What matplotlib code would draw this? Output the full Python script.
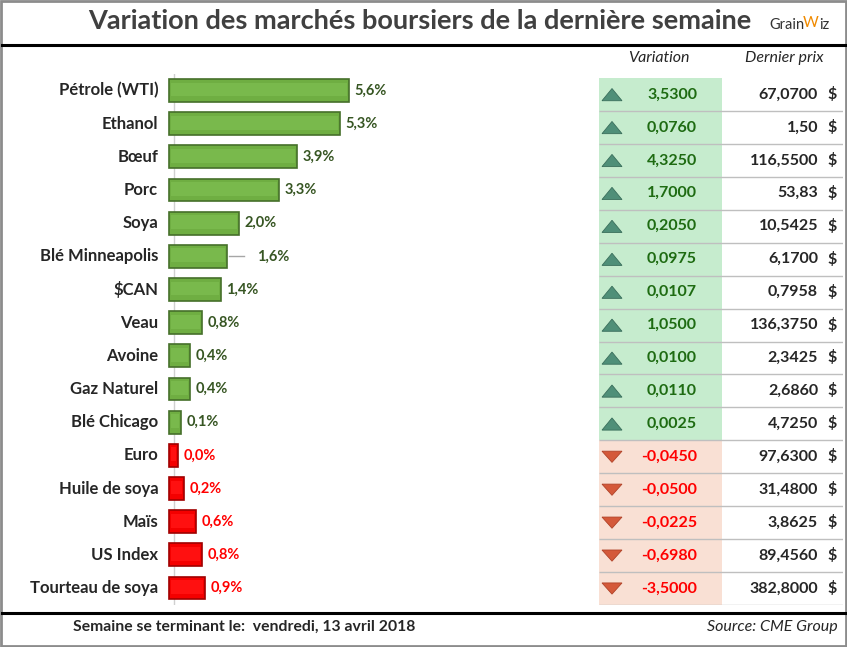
import matplotlib
matplotlib.use("Agg")
import matplotlib.pyplot as plt
from matplotlib.patches import Rectangle, Polygon

plt.rcParams['font.family'] = ['Lato', 'DejaVu Sans']
plt.rcParams['text.parse_math'] = False

# --- data ---
categories = ["Pétrole (WTI)", "Ethanol", "Bœuf", "Porc", "Soya", "Blé Minneapolis",
              "$CAN", "Veau", "Avoine", "Gaz Naturel", "Blé Chicago", "Euro",
              "Huile de soya", "Maïs", "US Index", "Tourteau de soya"]
pct_change = [5.6, 5.3, 3.9, 3.3, 2.0, 1.6, 1.4, 0.8, 0.4, 0.4, 0.1,
              -0.0, -0.2, -0.6, -0.8, -0.9]
variation = [3.5300, 0.0760, 4.3250, 1.7000, 0.2050, 0.0975, 0.0107, 1.0500,
             0.0100, 0.0110, 0.0025, -0.0450, -0.0500, -0.0225, -0.6980, -3.5000]
last_price = ["67,0700", "1,50", "116,5500", "53,83", "10,5425", "6,1700", "0,7958",
              "136,3750", "2,3425", "2,6860", "4,7250", "97,6300", "31,4800",
              "3,8625", "89,4560", "382,8000"]

title = "Variation des marchés boursiers de la dernière semaine"
footer_left = "Semaine se terminant le:  vendredi, 13 avril 2018"
footer_right = "Source: CME Group"

W, H = 847, 647
fig = plt.figure(figsize=(W / 100, H / 100), dpi=100)
fig.patch.set_facecolor("white")


def px_box(x0, y0, x1, y1):
    # pixel box (top-left origin) -> figure fraction rect
    return [x0 / W, 1 - y1 / H, (x1 - x0) / W, (y1 - y0) / H]


# overlay in pixel coordinates for frame / titles
ov = fig.add_axes([0, 0, 1, 1])
ov.set_xlim(0, W)
ov.set_ylim(H, 0)
ov.axis("off")

n = len(categories)
rows = list(range(n))
up = [variation[i] > 0 for i in rows]

# --- bar chart ---
bax = fig.add_axes(px_box(162.75, 73.9, 422, 604.6))
bax.set_xlim(-0.5, 8)
bax.set_ylim(n - 0.5, -0.5)
bax.axis("off")
bax.patch.set_alpha(0)

bax.axvline(-0.13, color="#d0d0d0", lw=1, zorder=1)
widths = [abs(v) + 0.3 for v in pct_change]
face = ["#6fae42" if u else "#f40000" for u in up]
edge = ["#456f2a" if u else "#a00000" for u in up]
bax.barh(rows, widths, left=-0.3, height=0.69, color=face, edgecolor=edge,
         linewidth=1.2, zorder=2)
# soft lighter face to hint at the bevel
bax.barh([r - 0.03 for r in rows], [w - 0.14 for w in widths], left=-0.23, height=0.42,
         color=["#79b94c" if u else "#ff1010" for u in up], linewidth=0, zorder=3)

for i in rows:
    v = abs(pct_change[i])
    lab = f"{v:.1f}%".replace(".", ",")
    col = "#375623" if up[i] else "#ff0000"
    if categories[i] == "Blé Minneapolis":
        bax.plot([v + 0.08, v + 0.55], [i, i], color="#a6a6a6", lw=1, zorder=3)
        bax.text(v + 1.0, i, lab, ha="left", va="center", fontsize=10.5,
                 fontweight="bold", color=col)
    else:
        bax.annotate(lab, xy=(v, i), xytext=(4, 0), textcoords="offset points",
                     ha="left", va="center", fontsize=10.5, fontweight="bold", color=col)
    bax.text(-0.65, i, categories[i], ha="right", va="center", fontsize=12,
             fontweight="bold", color="#262626")

# --- table ---
tax = fig.add_axes(px_box(599, 78, 843, 605))
tax.set_xlim(599, 843)
tax.set_ylim(n, 0)
tax.axis("off")
tax.patch.set_alpha(0)

for i in rows:
    tax.add_patch(Rectangle((599, i), 123, 1, color="#c6ecce" if up[i] else "#f9e0d4",
                            lw=0, zorder=1))
    if up[i]:
        tri = [(602, i + 0.69), (622, i + 0.69), (612, i + 0.32)]
        tc, te = "#4f8f78", "#3a6e5b"
    else:
        tri = [(602, i + 0.33), (622, i + 0.33), (612, i + 0.67)]
        tc, te = "#d4593a", "#b04228"
    tax.add_patch(Polygon(tri, closed=True, fc=tc, ec=te, lw=0.6, zorder=2))
    vtxt = f"{variation[i]:.4f}".replace(".", ",")
    tax.text(697, i + 0.5, vtxt, ha="right", va="center", fontsize=11.5, fontweight="bold",
             color="#1e6b12" if up[i] else "#ff0000")
    tax.text(818, i + 0.5, last_price[i], ha="right", va="center", fontsize=11.5,
             fontweight="bold", color="#262626")
    tax.text(832, i + 0.5, "$", ha="center", va="center", fontsize=11.5,
             fontweight="bold", color="#262626")
tax.hlines([r + 1 for r in rows], 599, 843, color="#bfbfbf", lw=1, zorder=3)

ov.text(659, 58, "Variation", ha="center", va="center", fontsize=11.5,
        style="italic", color="#262626")
ov.text(784, 58, "Dernier prix", ha="center", va="center", fontsize=11.5,
        style="italic", color="#262626")

# --- title, logo, footer, frame ---
ov.text(420, 21, title, ha="center", va="center", fontsize=19.5, fontweight="bold",
        color="#404040")
ov.text(769, 25, "Grain", ha="left", va="center", fontsize=10.5, color="#333333")
ov.text(803, 23, "W", ha="left", va="center", fontsize=11, color="#f08a00")
ov.text(819, 25, "iz", ha="left", va="center", fontsize=10.5, color="#333333")

ov.plot([2, 845], [45, 45], color="black", lw=2.2)
ov.plot([2, 845], [613, 613], color="black", lw=2.2)
ov.text(73, 627, footer_left, ha="left", va="center", fontsize=11.3,
        fontweight="bold", color="#262626")
ov.text(838, 627, footer_right, ha="right", va="center", fontsize=11.5,
        style="italic", color="#262626")
ov.add_patch(Rectangle((1, 1), 845, 645, fill=False, ec="#8c8c8c", lw=2))

fig.savefig("out.png", dpi=100)
